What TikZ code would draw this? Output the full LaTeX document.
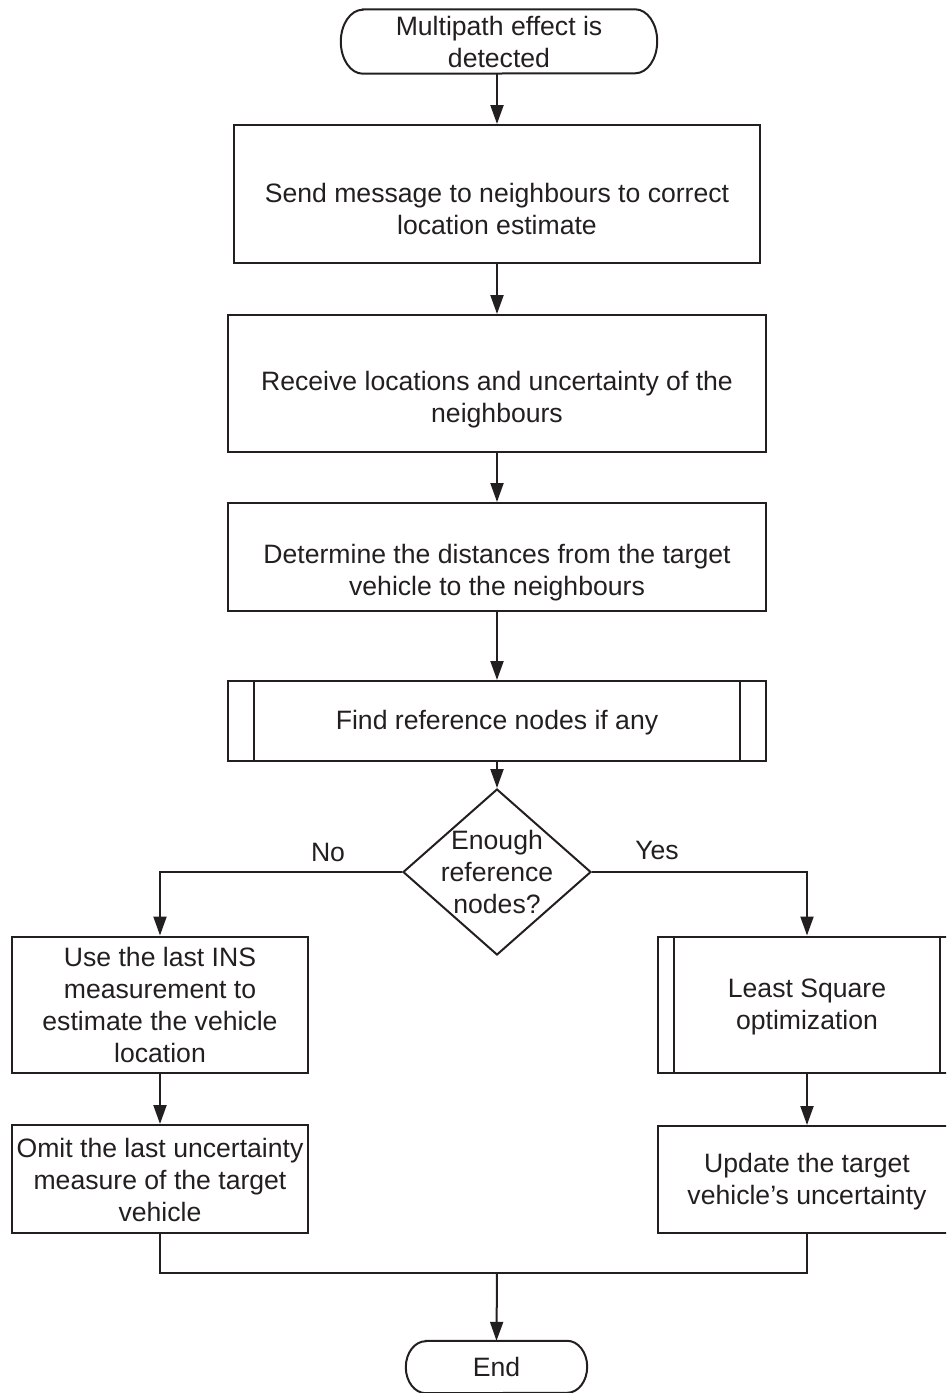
\documentclass[tikz,border=0pt]{standalone}
\usepackage{fontspec}
\setmainfont{Liberation Sans}
\usetikzlibrary{arrows.meta,shapes.geometric}
\definecolor{ink}{HTML}{231F20}
\tikzset{
  line/.style={draw=ink,line width=2pt},
  arr/.style={line,-{Triangle[length=19pt,width=13pt]}},
  txt/.style={text=ink,align=center,inner sep=0pt,font=\fontsize{26.6}{32}\selectfont},
  procbox/.style={line,rectangle,inner sep=0pt},
  termbox/.style={rectangle,inner sep=0pt},
  decision/.style={line,diamond,inner sep=0pt,minimum width=188pt,minimum height=166pt},
}
\begin{document}
\begin{tikzpicture}[x=1pt,y=-1pt]
\useasboundingbox (0,0) rectangle (946,1393);
\clip (0,0) rectangle (946,1393);

% start terminal
\node[termbox,txt,minimum width=316pt,minimum height=64pt] (start) at (499,41.5) {Multipath effect is\\detected};
\draw[line] ([xshift=22pt]start.north west) -- ([xshift=-22pt]start.north east)
  arc[start angle=90,end angle=-90,x radius=22pt,y radius=32pt]
  -- ([xshift=22pt]start.south west)
  arc[start angle=270,end angle=90,x radius=22pt,y radius=32pt] -- cycle;

% process steps
\node[procbox,minimum width=526pt,minimum height=138pt] (send) at (497,194) {};
\node[txt] (sendtxt) at (497,208.5) {Send message to neighbours to correct\\location estimate};

\node[procbox,minimum width=538pt,minimum height=137pt] (recv) at (497,383.5) {};
\node[txt] (recvtxt) at (497,400) {Receive locations and uncertainty of the\\neighbours};

\node[procbox,minimum width=538pt,minimum height=108pt] (det) at (497,557) {};
\node[txt] (dettxt) at (497,573) {Determine the distances from the target\\vehicle to the neighbours};

% predefined process
\node[procbox,minimum width=538pt,minimum height=80pt] (find) at (497,721) {};
\node[txt] (findtxt) at (497,723) {Find reference nodes if any};
\draw[line] ([xshift=27pt]find.north west) -- ([xshift=27pt]find.south west);
\draw[line] ([xshift=-27pt]find.north east) -- ([xshift=-27pt]find.south east);

% decision
\node[decision] (dec) at (497,872) {};
\node[txt] (dectxt) at (497,872) {Enough\\reference\\nodes?};

% left branch
\node[procbox,txt,minimum width=296pt,minimum height=136pt] (ins) at (160,1004.5) {Use the last INS\\measurement to\\estimate the vehicle\\location};
\node[procbox,minimum width=296pt,minimum height=108pt] (omit) at (160,1179) {};
\node[txt] (omittxt) at (160,1180) {Omit the last uncertainty\\measure of the target\\vehicle};

% right branch
\node[procbox,minimum width=298pt,minimum height=136pt] (ls) at (807,1004.5) {};
\node[txt] (lstxt) at (807,1006.5) {Least Square\\optimization};
\draw[line] ([xshift=17pt]ls.north west) -- ([xshift=17pt]ls.south west);
\draw[line] ([xshift=-17pt]ls.north east) -- ([xshift=-17pt]ls.south east);
\node[procbox,minimum width=298pt,minimum height=107pt] (upd) at (807,1179.5) {};
\node[txt] (updtxt) at (807,1181.5) {Update the target\\vehicle’s uncertainty};

% end terminal
\node[termbox,minimum width=181pt,minimum height=52pt] (end) at (496.5,1367) {};
\node[txt] (endtxt) at (496.5,1367) {End};
\draw[line] ([xshift=20pt]end.north west) -- ([xshift=-20pt]end.north east)
  arc[start angle=90,end angle=-90,x radius=20pt,y radius=26pt]
  -- ([xshift=20pt]end.south west)
  arc[start angle=270,end angle=90,x radius=20pt,y radius=26pt] -- cycle;

% branch labels
\node[txt] (no) at (328,852) {No};
\node[txt] (yes) at (657,850) {Yes};

% connectors
\draw[arr] (start.south -| send.north) -- (send.north);
\draw[arr] (send.south) -- (recv.north);
\draw[arr] (recv.south) -- (det.north);
\draw[arr] (det.south) -- (find.north);
\draw[arr] (find.south) -- (dec.north);
\draw[arr] (dec.west) -| (ins.north);
\draw[arr] (dec.east) -| (ls.north);
\draw[arr] (ins.south) -- (omit.north);
\draw[arr] (ls.south) -- (upd.north);
\coordinate (merge) at (497,1273);
\draw[line] (omit.south) |- (merge) -| (upd.south);
\draw[arr] (merge) -- (end.north);
\end{tikzpicture}
\end{document}
